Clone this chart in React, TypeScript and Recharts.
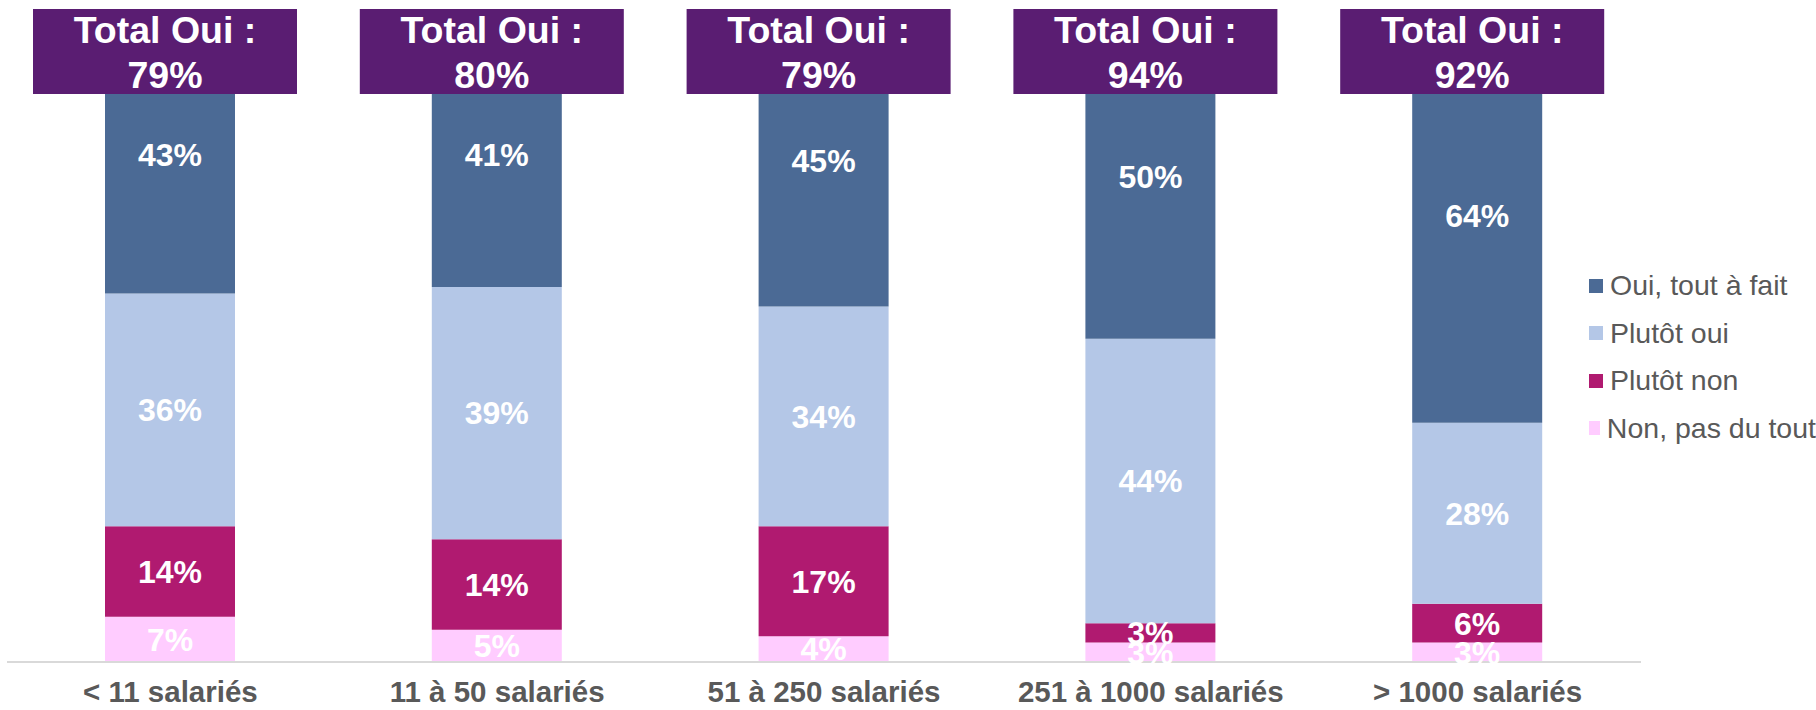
import { BarChart, Bar, XAxis, YAxis, LabelList, Legend } from "recharts";

const categories = ["< 11 salariés", "11 à 50 salariés", "51 à 250 salariés", "251 à 1000 salariés", "> 1000 salariés"];
const ouiToutAFait = [43, 41, 45, 50, 64];
const plutotOui = [36, 39, 34, 44, 28];
const plutotNon = [14, 14, 17, 3, 6];
const nonPasDuTout = [7, 5, 4, 3, 3];
const totalOui = [79, 80, 79, 94, 92];

const FONT = "'Liberation Sans', Arial, sans-serif";
const GRAY = "#595959";
const PURPLE = "#5A1D72";
const TOP = 9;

// stacked bottom -> top
const series = [
  { key: "non", name: "Non, pas du tout", color: "#FFCCFF" },
  { key: "plutotNon", name: "Plutôt non", color: "#B01A70" },
  { key: "plutotOui", name: "Plutôt oui", color: "#B4C7E7" },
  { key: "oui", name: "Oui, tout à fait", color: "#4B6A95" },
];

const data = categories.map((category, i) => ({
  category,
  oui: ouiToutAFait[i],
  plutotOui: plutotOui[i],
  plutotNon: plutotNon[i],
  non: nonPasDuTout[i],
  total: totalOui[i],
}));

const TotalBox = (props: any) => {
  const { x, width, value } = props;
  const cx = x + width / 2 - 5;
  return (
    <g>
      <rect x={cx - 132} y={TOP} width={264} height={85} fill={PURPLE} />
      <text x={cx} y={TOP + 34} textAnchor="middle" fill="#fff" fontSize={37.5} fontWeight="bold" fontFamily={FONT}>
        Total Oui :
      </text>
      <text x={cx} y={TOP + 79} textAnchor="middle" fill="#fff" fontSize={37.5} fontWeight="bold" fontFamily={FONT}>
        {`${value}%`}
      </text>
    </g>
  );
};

const CategoryTick = (props: any) => {
  const { x, y, payload } = props;
  return (
    <text x={x} y={y + 40} textAnchor="middle" fill={GRAY} fontSize={29.5} fontWeight="bold" fontFamily={FONT}>
      {payload.value}
    </text>
  );
};

const LegendContent = () => {
  const items = series.slice().reverse();
  return (
    <div style={{ fontFamily: FONT, fontSize: 28.5, color: GRAY }}>
      {items.map((it) => (
        <div key={it.key} style={{ display: "flex", alignItems: "center", height: 47.5, whiteSpace: "nowrap" }}>
          <span style={{ width: 14, height: 14, background: it.color, display: "inline-block", marginRight: 7 }} />
          <span>{it.name}</span>
        </div>
      ))}
    </div>
  );
};

export default function App() {
  return (
    <div style={{ position: "absolute", left: 0, top: 0, background: "#fff" }}>
      <BarChart width={1816} height={710} data={data} margin={{ top: TOP, right: 175, left: 7, bottom: 0 }}>
        <YAxis hide domain={[0, 101]} />
        <XAxis
          dataKey="category"
          height={48}
          tickLine={false}
          tickSize={0}
          tickMargin={0}
          axisLine={{ stroke: "#D9D9D9", strokeWidth: 2 }}
          tick={<CategoryTick />}
          interval={0}
        />
        <Legend
          layout="horizontal"
          verticalAlign="middle"
          align="center"
          wrapperStyle={{ left: 1589, right: "auto", top: 262, width: 227 }}
          content={<LegendContent />}
        />
        {series.map((s) => (
          <Bar key={s.key} dataKey={s.key} name={s.name} stackId="a" fill={s.color} barSize={130} isAnimationActive={false}>
            <LabelList
              dataKey={s.key}
              position="center"
              formatter={(v: any) => `${v}%`}
              fill="#fff"
              fontSize={32}
              fontWeight="bold"
              fontFamily={FONT}
            />
            {s.key === "oui" && <LabelList dataKey="total" content={<TotalBox />} />}
          </Bar>
        ))}
      </BarChart>
    </div>
  );
}
